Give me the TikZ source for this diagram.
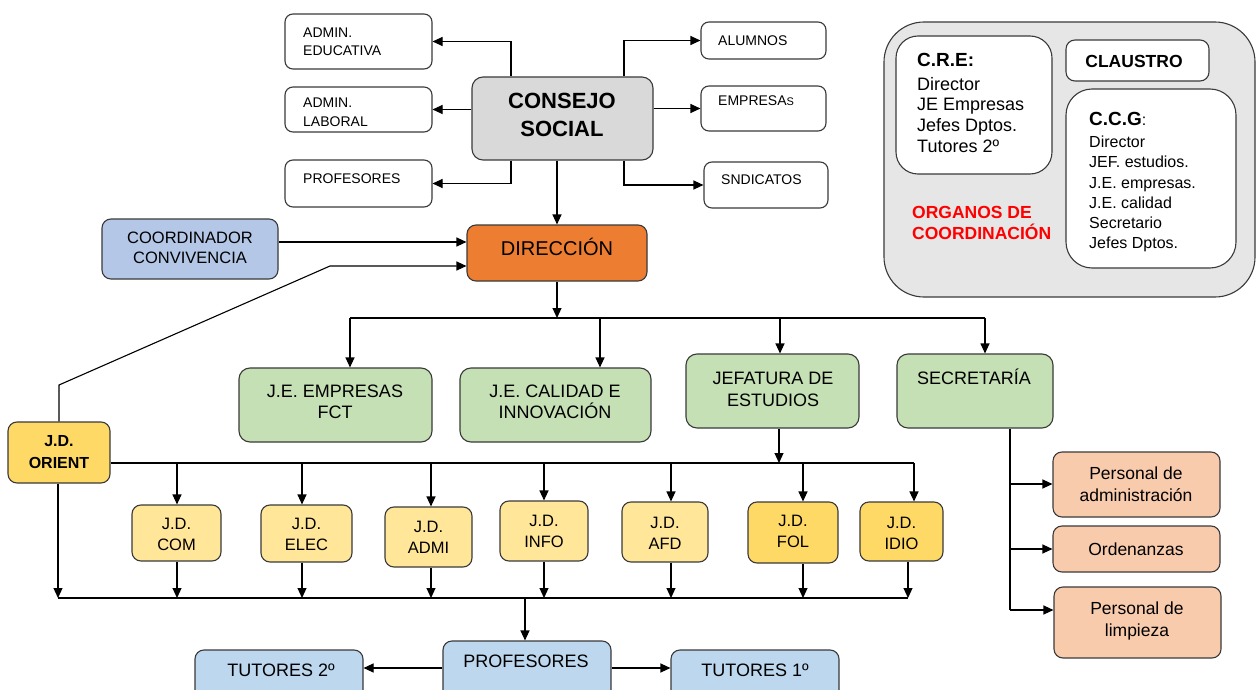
\documentclass[tikz,border=0pt]{standalone}
\usepackage{fontspec}
\setmainfont{Liberation Sans}
\usetikzlibrary{arrows.meta,calc}
\definecolor{lnc}{HTML}{3A3A3A}
\definecolor{csgray}{HTML}{D9D9D9}
\definecolor{dirorange}{HTML}{ED7D31}
\definecolor{coordblue}{HTML}{B4C7E7}
\definecolor{grn}{HTML}{C5E0B4}
\definecolor{ylight}{HTML}{FFE699}
\definecolor{ydark}{HTML}{FFD966}
\definecolor{salmon}{HTML}{F8CBAD}
\definecolor{bblue}{HTML}{BDD7EE}
\definecolor{panelgray}{HTML}{E7E6E6}
\definecolor{orgred}{HTML}{FF0000}
\newcommand\fsz[2]{\fontsize{#1}{#2}\selectfont}
\begin{document}
\begin{tikzpicture}[x=1pt,y=-1pt]
\tikzset{
 box/.style={draw=lnc, line width=1.1pt, rounded corners=9pt, inner sep=0pt},
 arr/.style={line width=1.1pt, draw=black, -{Triangle[length=10pt,width=9pt]}},
 ln/.style={line width=1.1pt, draw=black},
 tx/.style={inner sep=0pt, align=center, text=black},
 txl/.style={inner sep=0pt, align=left, text=black},
}
\useasboundingbox (0,0) rectangle (1256,690);
\fill[white] (0,0) rectangle (1256,690);
\clip (0,0) rectangle (1256,690);

% ---------- right panel ----------
\node[box, fill=panelgray, rounded corners=40pt, minimum width=371pt, minimum height=275pt] (panel) at (1069.5,159.5) {};
\node[box, fill=white, rounded corners=22pt, minimum width=156pt, minimum height=138pt] (cre) at (974,105) {};
\node[box, fill=white, rounded corners=9pt, minimum width=143pt, minimum height=41pt] (claus) at (1137.5,60.5) {};
\node[box, fill=white, rounded corners=26pt, minimum width=170pt, minimum height=179pt] (ccg) at (1151,178.5) {};
\node[txl, anchor=north west, font=\fsz{18}{20.7}] (tcre) at (917,53)
 {{\bfseries\fsz{19}{20.7}C.R.E:}\\[3pt]Director\\JE Empresas\\Jefes Dptos.\\Tutores 2º};
\node[tx, font=\bfseries\fsz{17.5}{21}] (tclaus) at (1134,61) {CLAUSTRO};
\node[txl, anchor=north west, font=\fsz{16}{20.2}] (tccg) at (1089,112)
 {{\bfseries\fsz{19}{20}C.C.G}:\\[2pt]Director\\JEF. estudios.\\J.E. empresas.\\J.E. calidad\\Secretario\\Jefes Dptos.};
\node[txl, anchor=west, text=orgred, font=\bfseries\fsz{17.5}{21}] (torg) at (912,222.5) {ORGANOS DE\\COORDINACIÓN};

% ---------- top ----------
\node[box, fill=white, rounded corners=8pt, minimum width=147pt, minimum height=55pt] (aedu) at (358.5,41.5) {};
\node[box, fill=white, rounded corners=8pt, minimum width=147pt, minimum height=45pt] (alab) at (358.5,109.5) {};
\node[box, fill=white, rounded corners=8pt, minimum width=147pt, minimum height=47pt] (aprof) at (358.5,183.5) {};
\node[box, fill=csgray, rounded corners=11pt, minimum width=181pt, minimum height=83pt] (cs) at (562.5,118.5) {};
\node[box, fill=white, rounded corners=8pt, minimum width=125pt, minimum height=37pt] (alum) at (763.5,40.5) {};
\node[box, fill=white, rounded corners=8pt, minimum width=125pt, minimum height=45pt] (empr) at (763.5,108.5) {};
\node[box, fill=white, rounded corners=8pt, minimum width=124pt, minimum height=46pt] (sind) at (766,185) {};

\node[txl, anchor=west, font=\fsz{14}{18}] (taedu) at (303,42) {ADMIN.\\EDUCATIVA};
\node[txl, anchor=west, font=\fsz{14}{19}] (talab) at (303,112.5) {ADMIN.\\LABORAL};
\node[txl, anchor=west, font=\fsz{14}{18}] (taprof) at (303,179) {PROFESORES};
\node[tx, font=\bfseries\fsz{22}{28}] (tcs) at (562,115) {CONSEJO\\SOCIAL};
\node[txl, anchor=west, font=\fsz{14}{18}] (talum) at (718,41) {ALUMNOS};
\node[txl, anchor=west, font=\fsz{14}{18}] (tempr) at (718,101) {EMPRESA{\fsz{11}{13}S}};
\node[txl, anchor=west, font=\fsz{14}{18}] (tsind) at (721,180) {SNDICATOS};

\coordinate (csL) at (511,0);
\coordinate (csR) at (624,0);
\draw[arr] (cs.north -| csL) |- (aedu.east);
\draw[arr] (cs.west |- alab.east) -- (alab.east);
\draw[arr] (cs.south -| csL) |- (aprof.east);
\draw[arr] (cs.north -| csR) |- (alum.west);
\draw[arr] (cs.east |- empr.west) -- (empr.west);
\draw[arr] (cs.south -| csR) |- (sind.west);

% ---------- direccion ----------
\node[box, fill=dirorange, minimum width=180pt, minimum height=56pt] (dir) at (557,253) {};
\node[tx, font=\fsz{20}{24}] (tdir) at (557,247) {DIRECCIÓN};
\node[box, fill=coordblue, minimum width=176pt, minimum height=60pt] (coord) at (190,249) {};
\node[tx, font=\fsz{16.5}{20}] (tcoord) at (190,248) {COORDINADOR\\CONVIVENCIA};
\draw[arr] (cs.south -| dir.north) -- (dir.north);
\coordinate (cy1) at (0,242);
\draw[arr] (coord.east |- cy1) -- (dir.west |- cy1);

% ---------- green level ----------
\node[box, fill=grn, rounded corners=11pt, minimum width=193pt, minimum height=74pt] (jee) at (335.5,405) {};
\node[box, fill=grn, rounded corners=11pt, minimum width=191pt, minimum height=74pt] (jec) at (555.5,405) {};
\node[box, fill=grn, rounded corners=11pt, minimum width=173pt, minimum height=74pt] (jef) at (772.5,391) {};
\node[box, fill=grn, rounded corners=11pt, minimum width=156pt, minimum height=74pt] (sec) at (975,391) {};
\node[tx, font=\fsz{18}{21}] (tjee) at (335,401.5) {J.E. EMPRESAS\\FCT};
\node[tx, font=\fsz{18}{21}] (tjec) at (555,401.5) {J.E. CALIDAD E\\INNOVACIÓN};
\node[tx, font=\fsz{18}{22}] (tjef) at (773,389) {JEFATURA DE\\ESTUDIOS};
\node[tx, font=\fsz{18}{22}] (tsec) at (974,377) {SECRETARÍA};

\coordinate (bus1) at (0,318);
\coordinate (d1) at (350,318);
\coordinate (d2) at (600,318);
\coordinate (d3) at (780,318);
\coordinate (d4) at (985,318);
\draw[arr] (dir.south) -- (dir.south |- bus1);
\draw[ln] (d1) -- (d4);
\draw[arr] (d1) -- (d1 |- jee.north);
\draw[arr] (d2) -- (d2 |- jec.north);
\draw[arr] (d3) -- (d3 |- jef.north);
\draw[arr] (d4) -- (d4 |- sec.north);

% ---------- J.D. ----------
\node[box, fill=ydark, minimum width=102pt, minimum height=61pt] (ori) at (59,452.5) {};
\node[tx, font=\bfseries\fsz{16}{22}] (tori) at (59,452) {J.D.\\ORIENT};
\node[box, fill=ylight, minimum width=89pt, minimum height=56pt] (com) at (176.5,533) {};
\node[box, fill=ylight, minimum width=91pt, minimum height=57pt] (elec) at (306.5,533.5) {};
\node[box, fill=ylight, minimum width=87pt, minimum height=60pt] (admi) at (428.5,537) {};
\node[box, fill=ylight, minimum width=88pt, minimum height=60pt] (info) at (544,531) {};
\node[box, fill=ylight, minimum width=86pt, minimum height=60pt] (afd) at (665,532) {};
\node[box, fill=ydark, minimum width=90pt, minimum height=61pt] (fol) at (793,532.5) {};
\node[box, fill=ydark, minimum width=83pt, minimum height=59pt] (idio) at (901.5,531.5) {};
\node[tx, font=\fsz{16.5}{21}] (tcom) at (176.5,534.5) {J.D.\\COM};
\node[tx, font=\fsz{16.5}{21}] (telec) at (306.5,534) {J.D.\\ELEC};
\node[tx, font=\fsz{16.5}{21}] (tadmi) at (428.5,537.5) {J.D.\\ADMI};
\node[tx, font=\fsz{16.5}{21}] (tinfo) at (544,531) {J.D.\\INFO};
\node[tx, font=\fsz{16.5}{21}] (tafd) at (665,533) {J.D.\\AFD};
\node[tx, font=\fsz{16.5}{21}] (tfol) at (793,531) {J.D.\\FOL};
\node[tx, font=\fsz{16.5}{21}] (tidio) at (901.5,533) {J.D.\\IDIO};

% orient -> direccion
\coordinate (k1) at (58,385);
\coordinate (k2) at (330,266);
\draw[arr] (ori.north) -- (ori.north |- k1) -- (k2) -- (dir.west |- k2);

% bus 2
\coordinate (bus2) at (0,463);
\coordinate (j2) at (779,0);
\draw[arr] (jef.south -| j2) -- (j2 |- bus2);
\coordinate (e1) at (177,463);
\coordinate (e2) at (302,463);
\coordinate (e3) at (431,463);
\coordinate (e4) at (544,463);
\coordinate (e5) at (671,463);
\coordinate (e6) at (803,463);
\coordinate (e7) at (914,463);
\draw[ln] (ori.east |- bus2) -- (e7);
\draw[arr] (e1) -- (e1 |- com.north);
\draw[arr] (e2) -- (e2 |- elec.north);
\draw[arr] (e3) -- (e3 |- admi.north);
\draw[arr] (e4) -- (e4 |- info.north);
\draw[arr] (e5) -- (e5 |- afd.north);
\draw[arr] (e6) -- (e6 |- fol.north);
\draw[arr] (e7) -- (e7 |- idio.north);

% bus 3
\coordinate (bus3) at (0,598);
\coordinate (f0) at (58,0);
\coordinate (f1) at (177,0);
\coordinate (f2) at (302,0);
\coordinate (f3) at (431,0);
\coordinate (f4) at (544,0);
\coordinate (f5) at (671,0);
\coordinate (f6) at (803,0);
\coordinate (f7) at (908,0);
\draw[ln] (f0 |- bus3) -- (f7 |- bus3);
\draw[arr] (ori.south -| f0) -- (f0 |- bus3);
\draw[arr] (com.south -| f1) -- (f1 |- bus3);
\draw[arr] (elec.south -| f2) -- (f2 |- bus3);
\draw[arr] (admi.south -| f3) -- (f3 |- bus3);
\draw[arr] (info.south -| f4) -- (f4 |- bus3);
\draw[arr] (afd.south -| f5) -- (f5 |- bus3);
\draw[arr] (fol.south -| f6) -- (f6 |- bus3);
\draw[arr] (idio.south -| f7) -- (f7 |- bus3);

% ---------- bottom ----------
\node[box, fill=bblue, minimum width=168pt, minimum height=59pt] (prof) at (527,670.5) {};
\node[box, fill=bblue, minimum width=168pt, minimum height=50pt] (tut2) at (279,675) {};
\node[box, fill=bblue, minimum width=168pt, minimum height=50pt] (tut1) at (755,675) {};
\node[tx, font=\fsz{18}{22}] (tprof) at (526,661) {PROFESORES};
\node[tx, font=\fsz{18}{22}] (ttut2) at (281,670) {TUTORES 2º};
\node[tx, font=\fsz{18}{22}] (ttut1) at (755,670) {TUTORES 1º};
\coordinate (g1) at (525,0);
\draw[arr] (g1 |- bus3) -- (g1 |- prof.north);
\coordinate (h1) at (0,668);
\draw[arr] (prof.west |- h1) -- (tut2.east |- h1);
\draw[arr] (prof.east |- h1) -- (tut1.west |- h1);

% ---------- secretaria staff ----------
\node[box, fill=salmon, minimum width=167pt, minimum height=65pt] (padm) at (1136.5,484.5) {};
\node[box, fill=salmon, minimum width=167pt, minimum height=46pt] (ord) at (1136.5,549) {};
\node[box, fill=salmon, minimum width=167pt, minimum height=71pt] (plim) at (1137.5,622.5) {};
\node[tx, font=\fsz{17.5}{22}] (tpadm) at (1136,484) {Personal de\\administración};
\node[tx, font=\fsz{17.5}{22}] (tord) at (1136,549) {Ordenanzas};
\node[tx, font=\fsz{17.5}{22}] (tplim) at (1137,621) {Personal de\\limpieza};
\coordinate (s1) at (1010,0);
\draw[ln] (sec.south -| s1) -- (s1 |- 0,610);
\draw[arr] (s1 |- 0,484) -- (padm.west |- 0,484);
\draw[arr] (s1 |- ord.west) -- (ord.west);
\draw[arr] (s1 |- 0,610) -- (plim.west |- 0,610);
\end{tikzpicture}
\end{document}
